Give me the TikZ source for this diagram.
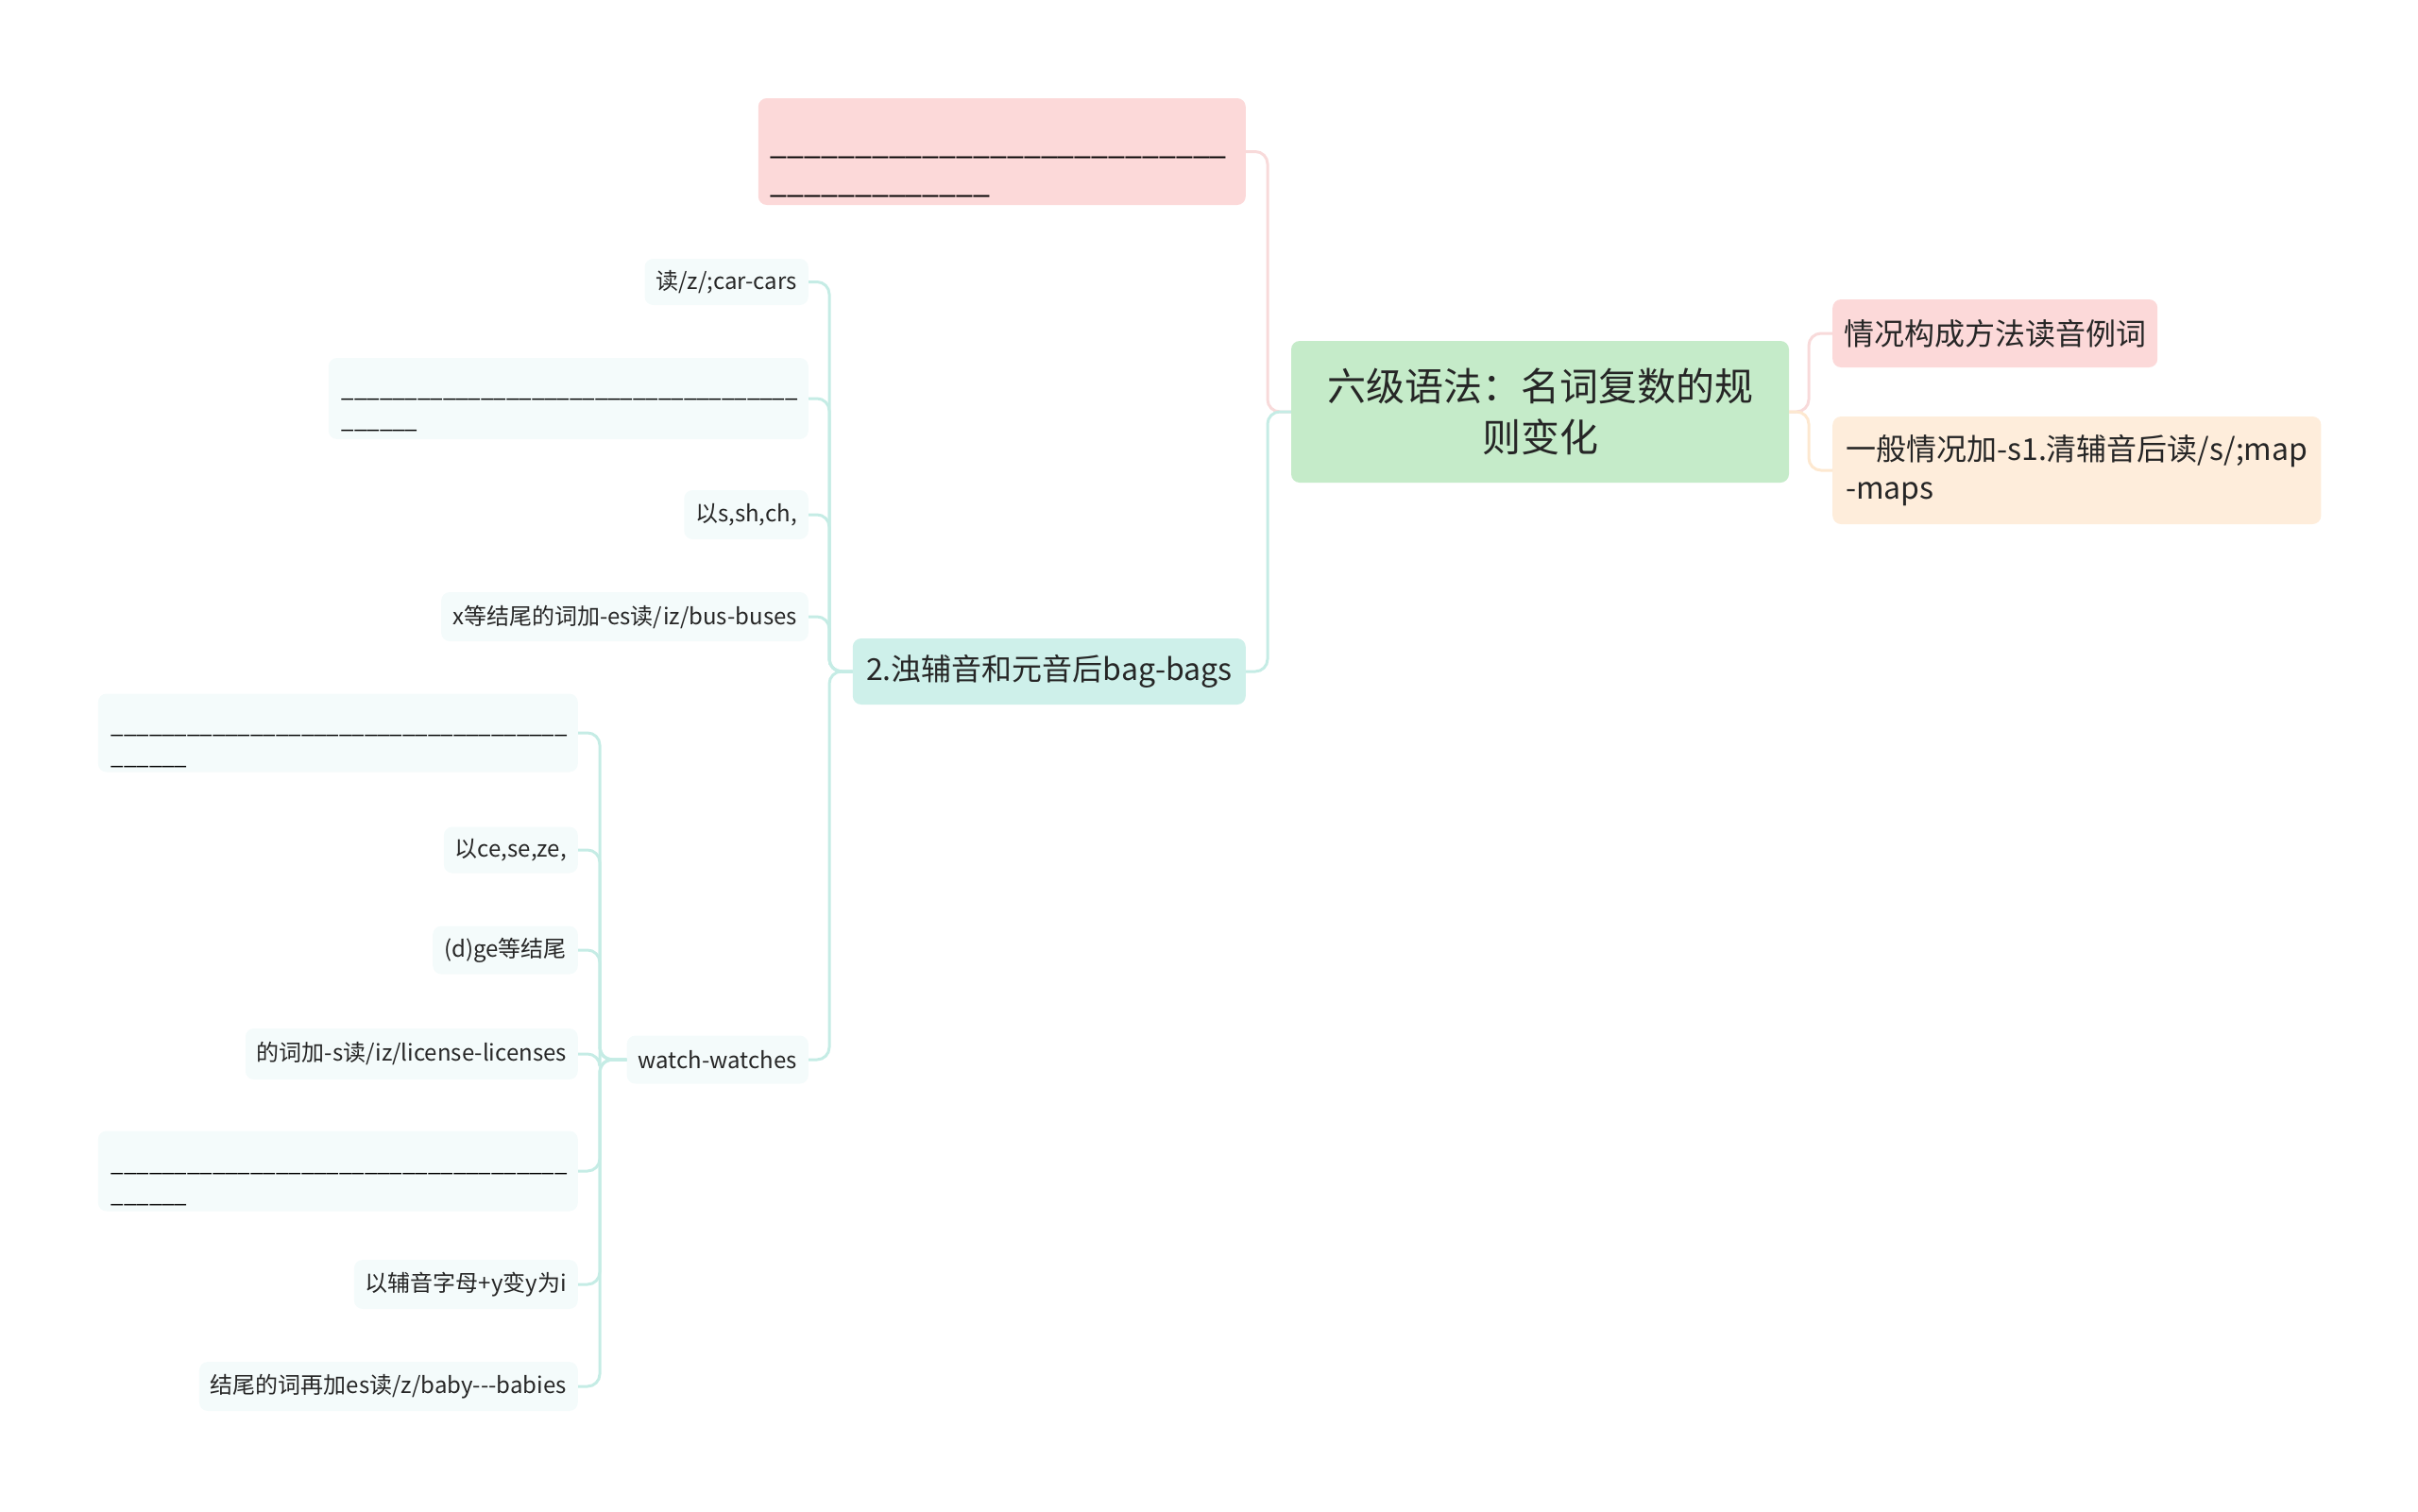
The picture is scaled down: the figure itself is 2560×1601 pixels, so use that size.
\documentclass[tikz,border=0pt]{standalone}
\usepackage{fontspec}
\setmainfont{Noto Sans CJK SC}
\definecolor{txt}{RGB}{38,38,38}
\definecolor{pinkfill}{RGB}{252,217,217}
\definecolor{pinkline}{RGB}{248,218,218}
\definecolor{greenfill}{RGB}{197,235,201}
\definecolor{orangefill}{RGB}{254,237,219}
\definecolor{orangeline}{RGB}{253,232,208}
\definecolor{tealfill}{RGB}{206,240,234}
\definecolor{tealline}{RGB}{197,236,229}
\definecolor{leaffill}{RGB}{244,251,251}
\newcommand{\ninebar}{\_\_\_\_\_\_\_\_\_}
\newcommand{\lowline}[2]{\raisebox{-#1}[0pt][0pt]{\color{black}#2}}
\begin{document}
\begin{tikzpicture}[x=1pt,y=-1pt,
  base/.style={rounded corners=9pt, inner xsep=12pt, inner ysep=0pt, text=txt},
  lvtwo/.style={base, font=\fontsize{32}{41}\selectfont},
  lvthree/.style={base, fill=leaffill, font=\fontsize{24}{33}\selectfont, minimum height=51pt, anchor=east},
  blank/.style={lvthree, text width=480pt, inner xsep=14pt, align=left, minimum height=85pt},
  conn/.style={line width=3pt, rounded corners=13pt},
]
\useasboundingbox (0,0) rectangle (2560,1601);

% root
\node[base, fill=greenfill, font=\fontsize{41}{54}\selectfont, align=center,
      minimum width=527pt, minimum height=150pt] (root) at (1630.5,436)
      {六级语法：名词复数的规\\则变化};

% right side
\node[lvtwo, fill=pinkfill, anchor=west, minimum width=341pt, minimum height=72pt] (r1) at (1940,353) {情况构成方法读音例词};
\node[lvtwo, fill=orangefill, anchor=west, align=left, minimum width=516pt, minimum height=114pt, inner xsep=14pt] (r2) at (1940,498)
      {一般情况加-s1.清辅音后读/s/;map\\-maps};

% left side level 2
\node[lvtwo, fill=pinkfill, anchor=east, text width=490pt, inner xsep=13pt, align=left, minimum height=113pt] (p1) at (1319,160.5)
      {\lowline{23pt}{\ninebar\ninebar\ninebar}\\\lowline{23pt}{\ninebar\_\_\_\_}};
\node[lvtwo, fill=tealfill, anchor=east, minimum width=416pt, minimum height=70pt] (p2) at (1319,711) {2.浊辅音和元音后bag-bags};

% children of p2
\node[lvthree, minimum height=49pt] (c1) at (856,298.5) {读/z/;car-cars};
\node[blank, minimum height=86pt] (c2) at (856,422)
      {\lowline{15pt}{\ninebar\ninebar\ninebar\ninebar}\\\lowline{15pt}{\_\_\_\_\_\_}};
\node[lvthree, minimum height=52pt] (c3) at (856,545) {以s,sh,ch,};
\node[lvthree, minimum height=52pt] (c4) at (856,653) {x等结尾的词加-es读/iz/bus-buses};
\node[lvthree] (c5) at (856,1122) {watch-watches};

% children of c5
\node[blank, minimum height=83pt] (d1) at (612,776)
      {\lowline{17pt}{\ninebar\ninebar\ninebar\ninebar}\\\lowline{17pt}{\_\_\_\_\_\_}};
\node[lvthree, minimum height=49pt] (d2) at (612,900) {以ce,se,ze,};
\node[lvthree] (d3) at (612,1006) {(d)ge等结尾};
\node[lvthree, minimum height=54pt] (d4) at (612,1116) {的词加-s读/iz/license-licenses};
\node[blank] (d5) at (612,1240)
      {\lowline{17pt}{\ninebar\ninebar\ninebar\ninebar}\\\lowline{17pt}{\_\_\_\_\_\_}};
\node[lvthree, minimum height=52pt] (d6) at (612,1360) {以辅音字母+y变y为i};
\node[lvthree, minimum height=52pt] (d7) at (612,1468) {结尾的词再加es读/z/baby-\kern0pt-\kern0pt-babies};

% junctions
\coordinate (jR) at (1915,436);
\coordinate (jL) at (1342,436);
\coordinate (jP) at (878,711);
\coordinate (jW) at (635,1122);

% connectors
\draw[conn, pinkline] (root.east) -- (jR) |- (r1.west);
\draw[conn, orangeline] (root.east) -- (jR) |- (r2.west);
\draw[conn, pinkline] (root.west) -- (jL) |- (p1.east);
\draw[conn, tealline] (root.west) -- (jL) |- (p2.east);
\foreach \c in {c1,c2,c3,c4,c5}
  \draw[conn, tealline] (p2.west) -- (jP) |- (\c.east);
\foreach \d in {d1,d2,d3,d4,d5,d6,d7}
  \draw[conn, tealline] (c5.west) -- (jW) |- (\d.east);
\end{tikzpicture}
\end{document}
